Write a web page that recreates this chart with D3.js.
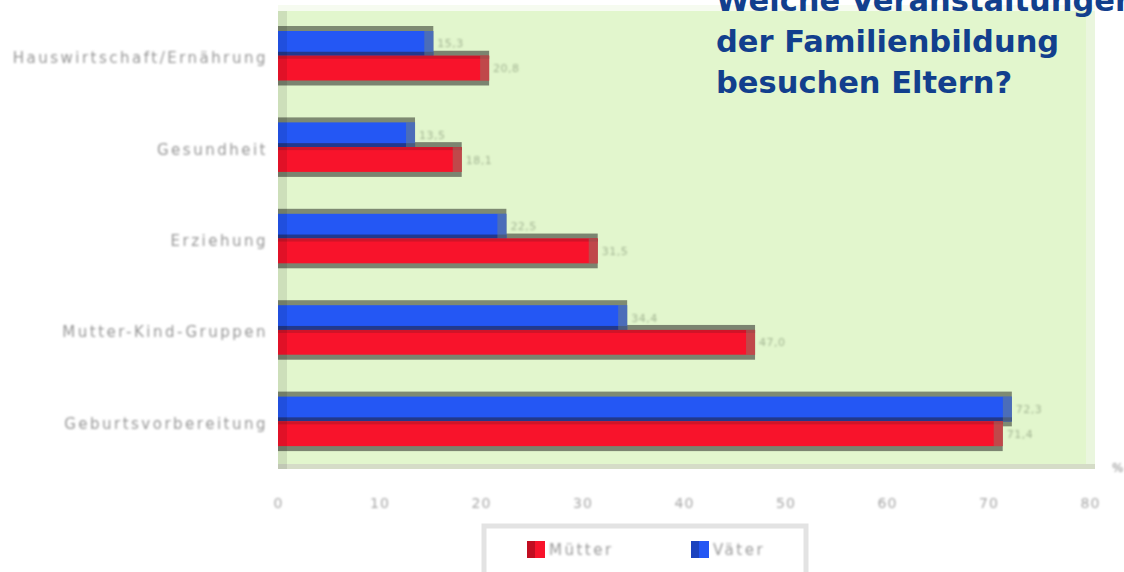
<!DOCTYPE html>
<html>
<head>
<meta charset="utf-8">
<script src="https://cdn.jsdelivr.net/npm/d3@7"></script>
<style>
  body { margin: 0; background: #fff; }
  svg { display: block; }
</style>
</head>
<body>
<svg id="chart" width="1124" height="572"></svg>
<script>
// Daten (Werte in Prozent)
var categories = ["Hauswirtschaft/Ernährung", "Gesundheit", "Erziehung", "Mutter-Kind-Gruppen", "Geburtsvorbereitung"];
var series = ["Väter", "Mütter"];
var vaeter = [15.3, 13.5, 22.5, 34.4, 72.3];
var muetter = [20.8, 18.1, 31.5, 47.0, 71.4];
var ticks = [0, 10, 20, 30, 40, 50, 60, 70, 80];
var titleLines = ["Welche Veranstaltungen", "der Familienbildung", "besuchen Eltern?"];

var colors = { "Mütter": "#f8132b", "Väter": "#2457f4" };
var strip = { "Mütter": "#d01428", "Väter": "#22398c" };

var svg = d3.select("#chart");
var defs = svg.append("defs");
defs.append("filter").attr("id", "soft")
  .attr("x", "-10%").attr("y", "-50%").attr("width", "120%").attr("height", "200%")
  .append("feGaussianBlur").attr("stdDeviation", 1.2);

var pLeft = 278, pRight = 1095, pTop = 11, pBottom = 469;

var x = d3.scaleLinear().domain([0, 80]).range([pLeft, 1090]);
var y = d3.scaleBand().domain(categories).range([pTop, 468]);
var ys = d3.scaleBand().domain(series).range([0, 49.5]);

// plot background
svg.append("rect").attr("x", pLeft).attr("y", pTop - 6).attr("width", pRight - pLeft).attr("height", 6).attr("fill", "#f6fbf0");
svg.append("rect").attr("x", pLeft).attr("y", pTop).attr("width", pRight - pLeft).attr("height", pBottom - pTop).attr("fill", "#e2f6cd");
svg.append("rect").attr("x", 1086).attr("y", pTop).attr("width", pRight - 1086).attr("height", pBottom - pTop).attr("fill", "#eaf6de");
svg.append("rect").attr("x", pLeft).attr("y", 464).attr("width", pRight - pLeft).attr("height", 5).attr("fill", "#d5dcc7");

var rows = categories.map(function(c, i) {
  return { cat: c, values: [ { s: "Väter", v: vaeter[i] }, { s: "Mütter", v: muetter[i] } ] };
});

var g = svg.selectAll("g.row").data(rows).enter().append("g").attr("class", "row")
  .attr("transform", function(d) { return "translate(0," + (y(d.cat) + 20) + ")"; });

var h = ys.bandwidth();

// shadows first
g.selectAll("rect.shadow").data(function(d) { return d.values.slice().reverse(); }).enter().append("rect")
  .attr("class", "shadow")
  .attr("x", pLeft)
  .attr("y", function(d) { return ys(d.s) - 5; })
  .attr("width", function(d) { return x(d.v) - pLeft; })
  .attr("height", h + 10)
  .attr("fill", function(d) { return d.s == "Mütter" ? "#7b8470" : "#7e8a72"; });

// bar bodies
var bars = g.selectAll("g.bar").data(function(d) { return d.values; }).enter().append("g").attr("class", "bar");
bars.append("rect")
  .attr("x", pLeft).attr("y", function(d) { return ys(d.s); })
  .attr("width", function(d) { return x(d.v) - pLeft; }).attr("height", h)
  .attr("fill", function(d) { return colors[d.s]; });
bars.append("rect")
  .attr("x", pLeft)
  .attr("y", function(d) { return d.s == "Väter" ? ys(d.s) + h - 4 : ys(d.s); })
  .attr("width", function(d) { return x(d.v) - pLeft; })
  .attr("height", function(d) { return d.s == "Väter" ? 4 : 3; })
  .attr("fill", function(d) { return strip[d.s]; });
// end cap
bars.append("rect")
  .attr("x", function(d) { return x(d.v) - 9; }).attr("y", function(d) { return ys(d.s); })
  .attr("width", 9).attr("height", h)
  .attr("fill", "#7d8a70").attr("opacity", 0.45);

// value labels
bars.append("text")
  .attr("x", function(d) { return x(d.v) + 4; })
  .attr("y", function(d) { return ys(d.s) + h / 2 + 1; })
  .attr("dominant-baseline", "middle")
  .attr("font-family", "DejaVu Sans").attr("font-size", 11).attr("letter-spacing", 0.5)
  .attr("fill", "#a3b593").attr("filter", "url(#soft)")
  .text(function(d) { return d3.format(".1f")(d.v).replace(".", ","); });

// left strip of plot area
svg.append("rect").attr("x", pLeft).attr("y", pTop).attr("width", 9).attr("height", pBottom - pTop)
  .attr("fill", "#000").attr("opacity", 0.09);

// category axis labels
svg.selectAll("text.cat").data(categories).enter().append("text")
  .attr("class", "cat")
  .attr("x", 268)
  .attr("y", function(d) { return y(d) + y.bandwidth() / 2 + 2; })
  .attr("text-anchor", "end").attr("dominant-baseline", "middle")
  .attr("font-family", "DejaVu Sans").attr("font-size", 15).attr("letter-spacing", 2.5)
  .attr("fill", "#969696").attr("filter", "url(#soft)")
  .text(function(d) { return d; });

// value axis
var axis = d3.axisBottom(x).tickValues(ticks).tickSize(0).tickPadding(0);
var ax = svg.append("g").attr("transform", "translate(0,498)").call(axis);
ax.select(".domain").remove();
ax.selectAll("text").attr("font-family", "DejaVu Sans").attr("font-size", 14).attr("letter-spacing", 1)
  .attr("fill", "#a6a6a6").attr("filter", "url(#soft)");

svg.append("text").attr("x", 1112).attr("y", 472)
  .attr("font-family", "DejaVu Sans").attr("font-size", 12).attr("fill", "#8a8a8a")
  .attr("filter", "url(#soft)").text("%");

// legend
var lg = svg.append("g").attr("transform", "translate(484,526)");
lg.append("rect").attr("width", 322).attr("height", 60)
  .attr("fill", "#fff").attr("stroke", "#e3e3e3").attr("stroke-width", 5);
var items = lg.selectAll("g.item").data(["Mütter", "Väter"]).enter().append("g").attr("class", "item")
  .attr("transform", function(d, i) { return "translate(" + (43 + i * 164) + ",15)"; });
items.append("rect").attr("width", 18).attr("height", 17).attr("fill", function(d) { return colors[d]; });
items.append("rect").attr("width", 8).attr("height", 17).attr("fill", "#000").attr("opacity", 0.22);
items.append("text").attr("x", 22).attr("y", 9).attr("dominant-baseline", "middle")
  .attr("font-family", "DejaVu Sans").attr("font-size", 15).attr("letter-spacing", 2.5).attr("fill", "#9a9a9a")
  .attr("filter", "url(#soft)").text(function(d) { return d; });

// title
svg.append("g").selectAll("text").data(titleLines).enter().append("text")
  .attr("x", 716).attr("y", function(d, i) { return 11 + i * 41; })
  .attr("font-family", "'Comic Sans MS', 'DejaVu Sans', sans-serif").attr("font-weight", "bold")
  .attr("font-size", 30.5).attr("fill", "#123f8d")
  .text(function(d) { return d; });
</script>
</body>
</html>
